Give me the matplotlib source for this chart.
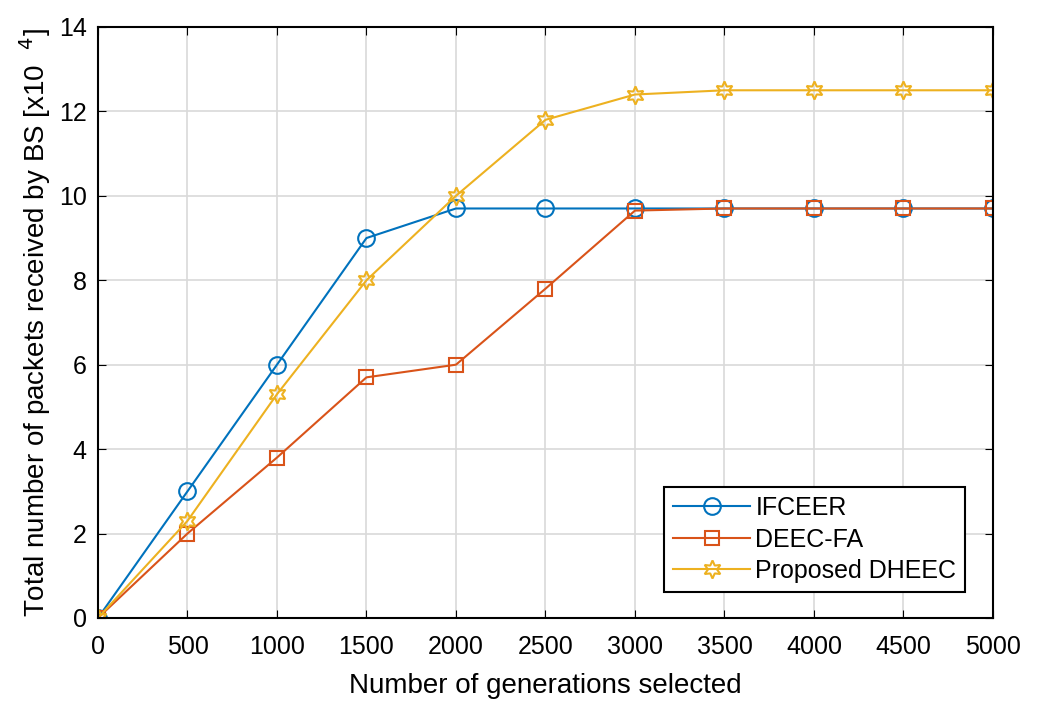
import matplotlib
matplotlib.use("Agg")
import matplotlib.pyplot as plt

plt.rcParams['font.family'] = ['Liberation Sans', 'DejaVu Sans']

generations = [0, 500, 1000, 1500, 2000, 2500, 3000, 3500, 4000, 4500, 5000]
ifceer = [0, 3.0, 6.0, 9.0, 9.7, 9.7, 9.7, 9.7, 9.7, 9.7, 9.7]
deec_fa = [0, 2.0, 3.8, 5.7, 6.0, 7.8, 9.65, 9.7, 9.7, 9.7, 9.7]
dheec = [0, 2.3, 5.3, 8.0, 10.0, 11.8, 12.4, 12.5, 12.5, 12.5, 12.5]

x_ticks = [0, 500, 1000, 1500, 2000, 2500, 3000, 3500, 4000, 4500, 5000]
y_ticks = [0, 2, 4, 6, 8, 10, 12, 14]

fig = plt.figure(figsize=(10.39, 7.02), dpi=100)
ax = fig.add_axes([0.0943, 0.1197, 0.8614, 0.8419])

ax.plot(generations, ifceer, color="#0072BD", marker="o", markersize=12,
        markerfacecolor="none", markeredgewidth=1.5, lw=1.5, label="IFCEER")
ax.plot(generations, deec_fa, color="#D95319", marker="s", markersize=10,
        markerfacecolor="none", markeredgewidth=1.5, lw=1.5, label="DEEC-FA")
ax.plot(generations, dheec, color="#EDB120", marker=(6, 1, 0), markersize=13,
        markerfacecolor="none", markeredgewidth=1.5, lw=1.5, label="Proposed DHEEC")

ax.set_xlim(0, 5000)
ax.set_ylim(0, 14)
ax.set_xticks(x_ticks)
ax.set_yticks(y_ticks)
ax.grid(True, color="#d9d9d9", lw=1.2)
ax.set_axisbelow(True)
ax.tick_params(direction="in", labelsize=18, length=6, top=True, right=True)
ax.tick_params(axis="x", pad=12)
ax.tick_params(axis="y", pad=8)
for sp in ax.spines.values():
    sp.set_linewidth(1.5)

ax.set_xlabel("Number of generations selected", fontsize=20, labelpad=10)
ax.set_ylabel(r"Total number of packets received by BS [x10  $^{4}$]", fontsize=20, labelpad=4)

leg = ax.legend(loc="lower right", fontsize=18, fancybox=False, edgecolor="black",
                framealpha=1, handlelength=3.1, borderaxespad=0,
                bbox_to_anchor=(0.969, 0.044), labelspacing=0.3, handletextpad=0.2,
                borderpad=0.35)
leg.get_frame().set_linewidth(1.5)

fig.savefig("out.png", dpi=100)
